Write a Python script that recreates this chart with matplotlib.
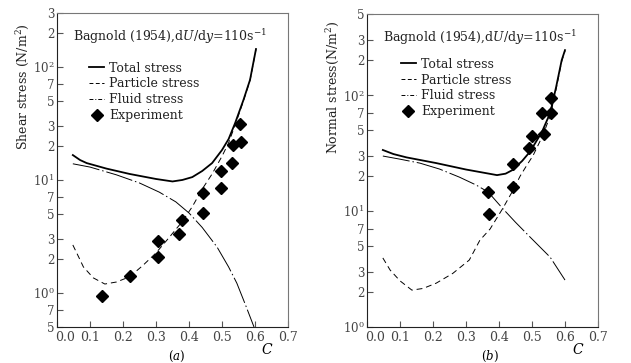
import numpy as np
import matplotlib
matplotlib.use('Agg')
import matplotlib.pyplot as plt
from matplotlib.lines import Line2D
from matplotlib.transforms import ScaledTranslation

plt.rcParams['font.family'] = ['DejaVu Serif']
plt.rcParams['mathtext.fontset'] = 'dejavuserif'

# ---- panel (a): shear stress ----
c_total_a = [0.048, 0.07, 0.09, 0.15, 0.22, 0.30, 0.35, 0.38, 0.41, 0.44, 0.47, 0.50, 0.52, 0.54, 0.565, 0.585, 0.603]
total_a = [16.6, 15.0, 14.1, 12.6, 11.3, 10.2, 9.7, 10.0, 10.6, 12.0, 14.1, 18.4, 23, 32, 51, 77, 144]

c_part_a = [0.048, 0.065, 0.08, 0.11, 0.145, 0.18, 0.22, 0.26, 0.30, 0.34, 0.38, 0.41, 0.44, 0.47, 0.50, 0.52, 0.54, 0.565, 0.585, 0.603]
part_a = [2.66, 2.1, 1.7, 1.36, 1.2, 1.25, 1.39, 1.75, 2.26, 3.1, 4.3, 5.8, 8.3, 11.3, 16.2, 21.3, 30.7, 50, 76, 143]

c_fluid_a = [0.048, 0.10, 0.18, 0.25, 0.31, 0.36, 0.40, 0.44, 0.485, 0.52, 0.545, 0.57, 0.597]
fluid_a = [13.9, 13.0, 11.1, 9.4, 7.8, 6.4, 5.1, 3.8, 2.55, 1.7, 1.22, 0.8, 0.5]

c_exp_a = [0.136, 0.22, 0.305, 0.305, 0.37, 0.378, 0.443, 0.443, 0.497, 0.497, 0.53, 0.533, 0.558, 0.555]
exp_a = [0.94, 1.41, 2.08, 2.88, 3.33, 4.43, 5.1, 7.7, 8.5, 12.0, 14.1, 20.3, 21.6, 31.3]

yticks_a = [0.5, 0.7, 1, 2, 3, 5, 7, 10, 20, 30, 50, 70, 100, 200, 300]
ylabels_a = ['5', '7', '$10^0$', '2', '3', '5', '7', '$10^1$', '2', '3', '5', '7', '$10^2$', '2', '3']

# ---- panel (b): normal stress ----
c_total_b = [0.048, 0.08, 0.12, 0.21, 0.30, 0.394, 0.42, 0.44, 0.47, 0.494, 0.53, 0.555, 0.573, 0.59, 0.60]
total_b = [33.6, 31, 29, 25.9, 22.8, 20.4, 21, 22.5, 27, 32.5, 48, 70, 117, 200, 244]

c_part_b = [0.048, 0.07, 0.10, 0.136, 0.17, 0.21, 0.26, 0.31, 0.342, 0.373, 0.412, 0.442, 0.464, 0.485, 0.503, 0.533, 0.555, 0.573, 0.59, 0.60]
part_b = [3.94, 3.1, 2.5, 2.08, 2.15, 2.39, 2.9, 3.78, 5.6, 7.0, 10.6, 15.0, 20, 25, 30, 45, 66, 112, 195, 240]

c_fluid_b = [0.048, 0.10, 0.16, 0.22, 0.28, 0.33, 0.367, 0.41, 0.45, 0.494, 0.555, 0.60]
fluid_b = [29.8, 28, 25.9, 23, 19.6, 16.8, 14.6, 10.6, 8.0, 5.97, 4.0, 2.54]

c_exp_b = [0.367, 0.37, 0.443, 0.443, 0.49, 0.50, 0.536, 0.53, 0.558, 0.558]
exp_b = [14.6, 9.4, 25.4, 16.2, 34.9, 44.4, 46.1, 70, 70, 94]

yticks_b = [1, 2, 3, 5, 7, 10, 20, 30, 50, 70, 100, 200, 300, 500]
ylabels_b = ['$10^0$', '2', '3', '5', '7', '$10^1$', '2', '3', '5', '7', '$10^2$', '2', '3', '5']

xticks = [0.0, 0.1, 0.2, 0.3, 0.4, 0.5, 0.6, 0.7]
xlabels = ['0.0', '0.1', '0.2', '0.3', '0.4', '0.5', '0.6', '0.7']

TITLE = r'Bagnold (1954),d$U$/d$y$=110s$^{-1}$'
DASH_PARTICLE = (0, (6, 4))
DASH_FLUID = (0, (28, 3, 1.5, 3))
TEXT_COLOUR = '#222222'
FS = 9
MS = 6.3


def draw_panel(ax, ct, tot, cp, part, cf, fluid, ce, ex, yt, yl, ylim, leg_xy):
    ax.set_yscale('log')
    ax.plot(ct, tot, color='black', lw=1.3)
    ax.plot(cp, part, color='black', lw=0.7, linestyle=DASH_PARTICLE)
    ax.plot(cf, fluid, color='black', lw=0.7, linestyle=DASH_FLUID)
    ax.plot(ce, ex, 'D', color='black', markersize=MS, linestyle='none')

    ax.set_xlim(0, 0.7)
    ax.set_ylim(*ylim)
    ax.set_xticks(xticks)
    ax.set_xticklabels(xlabels, fontsize=FS, color='#444444')
    ax.yaxis.set_minor_locator(plt.NullLocator())
    ax.set_yticks(yt)
    ax.set_yticklabels(yl, fontsize=8.5, color='#444444')
    ax.tick_params(direction='in', length=4, width=0.8, pad=2, color='#555555')
    ax.tick_params(axis='x', pad=3)

    # the 0.0 label sits a little to the right of the corner, as in the print
    first = ax.get_xticklabels()[0]
    first.set_transform(first.get_transform() + ScaledTranslation(6 / 72, 0, ax.figure.dpi_scale_trans))

    for s in ['left', 'bottom']:
        ax.spines[s].set_color('#222222')
        ax.spines[s].set_linewidth(0.8)
    for s in ['top', 'right']:
        ax.spines[s].set_color('#777777')
        ax.spines[s].set_linewidth(0.8)

    ax.text(0.069, 0.925, TITLE, transform=ax.transAxes, fontsize=FS,
            ha='left', va='center', color=TEXT_COLOUR)

    handles = [
        Line2D([], [], color='black', lw=1.3),
        Line2D([], [], color='black', lw=0.7, linestyle=(0, (4, 2.5))),
        Line2D([], [], color='black', lw=0.7, linestyle=(0, (4, 2, 1, 2))),
        Line2D([], [], marker='D', color='black', markersize=MS, linestyle='none'),
    ]
    names = ['Total stress', 'Particle stress', 'Fluid stress', 'Experiment']
    leg = ax.legend(handles, names, loc='upper left', bbox_to_anchor=leg_xy,
                    frameon=False, fontsize=FS, handlelength=1.2, handletextpad=0.4,
                    labelspacing=0.22, borderpad=0, borderaxespad=0)
    for t in leg.get_texts():
        t.set_color(TEXT_COLOUR)


fig = plt.figure(figsize=(6.31, 3.63), dpi=100)
ax_a = fig.add_axes([57 / 631, 1 - 327 / 363, 231 / 631, 314 / 363])
ax_b = fig.add_axes([367 / 631, 1 - 327 / 363, 231 / 631, 313 / 363])

draw_panel(ax_a, c_total_a, total_a, c_part_a, part_a, c_fluid_a, fluid_a,
           c_exp_a, exp_a, yticks_a, ylabels_a, (0.5, 300), (0.139, 0.845))
draw_panel(ax_b, c_total_b, total_b, c_part_b, part_b, c_fluid_b, fluid_b,
           c_exp_b, exp_b, yticks_b, ylabels_b, (1, 500), (0.147, 0.86))

fig.text(23 / 631, 1 - 87 / 363, 'Shear stress (N/m$^2$)', rotation=90,
         ha='center', va='center', fontsize=FS, color=TEXT_COLOUR)
fig.text(333 / 631, 1 - 87 / 363, 'Normal stress(N/m$^2$)', rotation=90,
         ha='center', va='center', fontsize=FS, color=TEXT_COLOUR)

fig.text(267 / 631, 1 - 350 / 363, '$C$', ha='center', va='center', fontsize=10)
fig.text(578 / 631, 1 - 350 / 363, '$C$', ha='center', va='center', fontsize=10)
fig.text(177 / 631, 1 - 356 / 363, '($a$)', ha='center', va='center', fontsize=8.5)
fig.text(490 / 631, 1 - 356 / 363, '($b$)', ha='center', va='center', fontsize=8.5)

fig.savefig('out.png', dpi=100, facecolor='white')
